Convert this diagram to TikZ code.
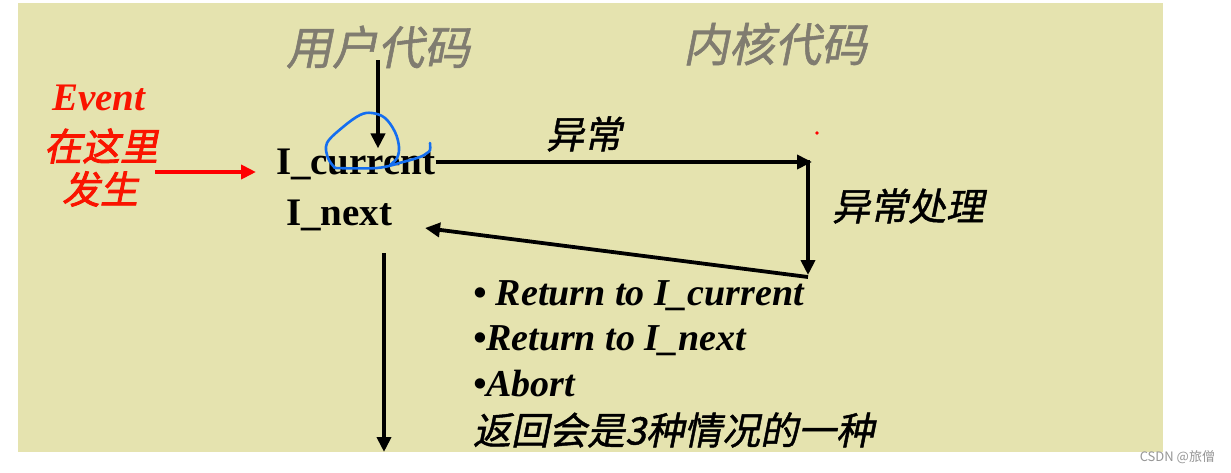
\documentclass[tikz,border=0pt]{standalone}
\usepackage{fontspec}
\setmainfont{Liberation Serif}
\newfontfamily\cjk[FakeSlant=0.2]{Noto Sans CJK SC}
\newfontfamily\cjkm[FakeSlant=0.2,FakeBold=1.2]{Noto Sans CJK SC}
\newfontfamily\cjkr[FakeSlant=0.2,FakeBold=2.2]{Noto Sans CJK SC}
\newfontfamily\cjkup{Noto Sans CJK SC}
\usetikzlibrary{arrows.meta}
\definecolor{bg}{RGB}{229,227,175}
\definecolor{titlegray}{RGB}{128,124,112}
\definecolor{evred}{RGB}{250,20,0}
\definecolor{markblue}{RGB}{20,110,240}
\definecolor{wmgray}{RGB}{150,150,150}
\begin{document}
\begin{tikzpicture}[x=0.5pt,y=-0.5pt,
  txt/.style={inner sep=0pt, outer sep=0pt},
  arr/.style={line width=1.9pt, -{Triangle[length=7.5pt,width=7pt]}},
  latin/.style={font=\bfseries\fontsize{19.5pt}{21pt}\selectfont},
  listtxt/.style={font=\bfseries\itshape\fontsize{19pt}{21pt}\selectfont},
  cjktitle/.style={text=titlegray, font=\cjkm\fontsize{23pt}{25pt}\selectfont},
  cjklabel/.style={font=\cjkm\fontsize{19pt}{21pt}\selectfont},
  cjkred/.style={text=evred, font=\cjkr\fontsize{19pt}{20pt}\selectfont},
  pen/.style={draw=markblue, line width=1.3pt, line cap=round, line join=round}
]
\useasboundingbox (0,0) rectangle (1231,472);
\fill[white] (0,0) rectangle (1231,472);
\fill[bg] (18,3) rectangle (1163,452);

% titles
\node[txt, cjktitle] (ucode) at (378,47) {用户代码};
\node[txt, cjktitle] (kcode) at (775,44) {内核代码};

% event label
\node[txt, anchor=base west, text=evred, font=\bfseries\itshape\fontsize{19.5pt}{21pt}\selectfont] (event) at (52,110) {Event};
\node[txt, cjkred] (zai) at (101,146) {在这里};
\node[txt, cjkred] (fasheng) at (100,189) {发生};

% instructions
\node[txt, anchor=base west, latin] (icur) at (276,174) {I\_current};
\node[txt, anchor=base west, latin] (inext) at (286,225) {I\_next};

% kernel labels
\node[txt, cjklabel] (exc) at (584,134) {异常};
\node[txt, cjklabel] (handle) at (908,206) {异常处理};

% list
\node[txt, anchor=base west, listtxt] (l1) at (473,305) {• Return to I\_current};
\node[txt, anchor=base west, listtxt] (l2) at (473,350) {•Return to I\_next};
\node[txt, anchor=base west, listtxt] (l3) at (473,396) {•Abort};
\node[txt, anchor=west, cjklabel] (l4) at (473,430) {返回会是3种情况的一种};

% watermark
\node[txt, anchor=east, text=wmgray, font=\cjkup\fontsize{6.5pt}{7pt}\selectfont] (wm) at (1215,457) {CSDN @旅僧};

% coordinates
\coordinate (t1) at (378,60);
\coordinate (e1) at (155,172);
\coordinate (e2) at (256,172);
\coordinate (k1) at (812,162);
\coordinate (k2) at (808,160);
\coordinate (k3) at (808,275);
\coordinate (k4) at (808,277);
\coordinate (rt) at (425,228);
\coordinate (d1) at (384,253);
\coordinate (d2) at (384,452);

% connectors
\draw[arr] (t1) -- (t1 |- icur.north);
\draw[arr, draw=red, fill=red] (e1) -- (e2);
\draw[arr] (icur.east |- k1) -- (k1);
\draw[arr] (k2) -- (k3);
\draw[arr] (k4) -- (rt);
\draw[arr] (d1) -- (d2);

% red dot
\fill[red] (817,133) circle (1.8);

% blue hand-drawn mark
\draw[pen] plot[smooth, tension=0.6] coordinates {(335,168) (328,158) (327,143) (343,127) (360,115) (372,113) (385,118) (395,132) (399,147) (397,158) (390,165)};
\draw[pen] plot[smooth, tension=0.6] coordinates {(335,168) (377,168) (403,162) (420,157) (427,153) (430,150) (430,143)};
\end{tikzpicture}
\end{document}
